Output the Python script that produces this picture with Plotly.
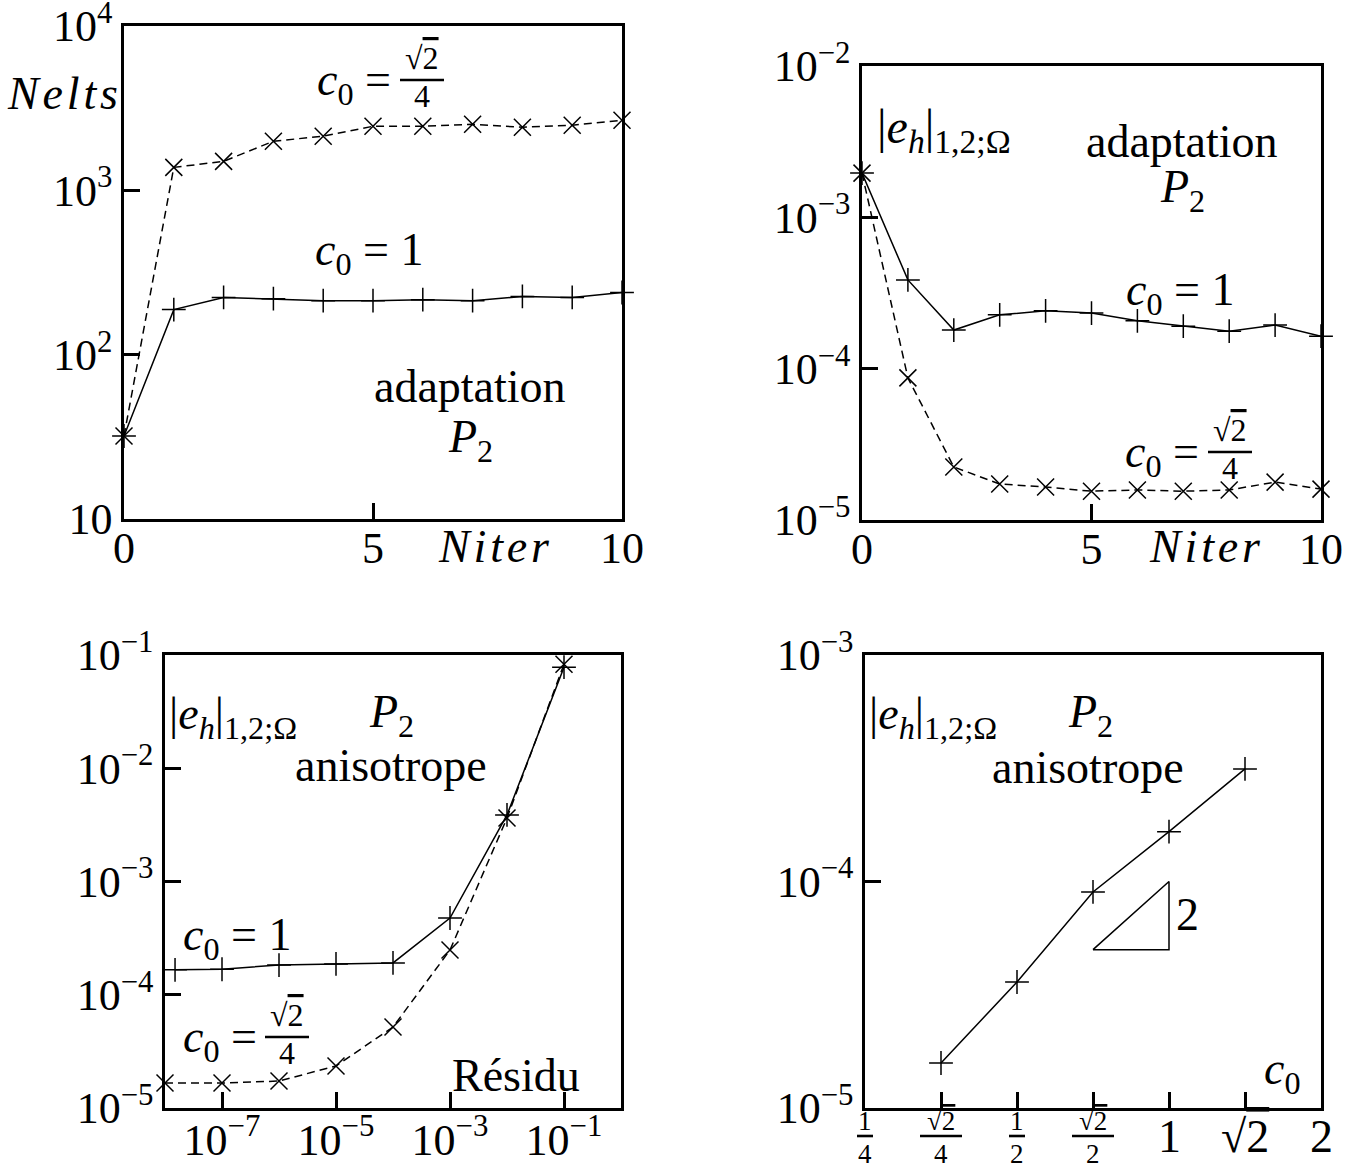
import math
import plotly.graph_objects as go

# figure fills the whole page (body margin removed after rendering)
OX, OY = 0, 0
FW, FH = 1347, 1176
FONT = "Liberation Serif"
SQ2 = math.sqrt(2)

# ---------------- data ----------------
# Panel 1 : number of elements vs iterations
niter = list(range(11))
nelts_c0_1 = [32, 188, 223, 219, 213, 213, 216, 213, 226, 223, 239]
nelts_c0_s24 = [32, 1380, 1500, 1990, 2135, 2455, 2455, 2525, 2420, 2490, 2670]

# Panel 2 : error vs iterations
err_iter_c0_1 = [1.96e-3, 3.86e-4, 1.80e-4, 2.27e-4, 2.41e-4, 2.33e-4, 2.07e-4, 1.91e-4, 1.77e-4, 1.94e-4, 1.64e-4]
err_iter_c0_s24 = [1.96e-3, 8.69e-5, 2.24e-5, 1.73e-5, 1.65e-5, 1.55e-5, 1.58e-5, 1.55e-5, 1.58e-5, 1.78e-5, 1.60e-5]

# Panel 3 : error vs residual
residu_c0_1 = [1.5e-8, 1e-7, 1e-6, 1e-5, 1e-4, 1e-3, 1e-2, 1e-1]
err_res_c0_1 = [1.66e-4, 1.68e-4, 1.83e-4, 1.87e-4, 1.91e-4, 4.76e-4, 3.87e-3, 7.8e-2]
residu_c0_s24 = [1e-8, 1e-7, 1e-6, 1e-5, 1e-4, 1e-3, 1e-2, 1e-1]
err_res_c0_s24 = [1.66e-5, 1.66e-5, 1.73e-5, 2.35e-5, 5.19e-5, 2.48e-4, 3.64e-3, 8.3e-2]

# Panel 4 : error vs c0
c0_vals = [SQ2 / 4, 0.5, SQ2 / 2, 1.0, SQ2]
err_c0 = [1.58e-5, 3.6e-5, 8.99e-5, 1.66e-4, 3.14e-4]
slope_tri_x = [SQ2 / 2, 1.0, 1.0, SQ2 / 2]
slope_tri_y = [5e-5, 5e-5, 1e-4, 5e-5]

# tick definitions
p1_yvals = [10, 100, 1000, 10000]
p1_ytext = ["10", "10<sup>2</sup>", "10<sup>3</sup>", "10<sup>4</sup>"]
iter_xvals = [0, 5, 10]
iter_xtext = ["0", "5", "10"]
p2_yvals = [1e-5, 1e-4, 1e-3, 1e-2]
p2_ytext = ["10<sup>−5</sup>", "10<sup>−4</sup>", "10<sup>−3</sup>", "10<sup>−2</sup>"]
p3_yvals = [1e-5, 1e-4, 1e-3, 1e-2, 1e-1]
p3_ytext = ["10<sup>−5</sup>", "10<sup>−4</sup>", "10<sup>−3</sup>", "10<sup>−2</sup>", "10<sup>−1</sup>"]
p3_xvals = [1e-7, 1e-5, 1e-3, 1e-1]
p3_xtext = ["10<sup>−7</sup>", "10<sup>−5</sup>", "10<sup>−3</sup>", "10<sup>−1</sup>"]
p4_yvals = [1e-5, 1e-4, 1e-3]
p4_ytext = ["10<sup>−5</sup>", "10<sup>−4</sup>", "10<sup>−3</sup>"]
p4_xvals = [0.25, SQ2 / 4, 0.5, SQ2 / 2, 1.0, SQ2, 2.0]
# (numerator, denominator) for fractional labels, plain text otherwise
p4_xlabels = [("1", "4"), ("√2", "4"), ("1", "2"), ("√2", "2"), "1", "√2", "2"]


def px(x):
    return (x - OX) / FW


def py(y):
    return 1 - (y - OY) / FH


# ---------------- figure ----------------
fig = go.Figure()

LINE_W = 1.5
MS = 17


def add(x, y, xa, ya, dashed, sym):
    fig.add_trace(go.Scatter(
        x=x, y=y, xaxis=xa, yaxis=ya, mode="lines+markers", cliponaxis=False,
        line=dict(color="black", width=LINE_W, dash="8px,5px" if dashed else "solid"),
        marker=dict(symbol=sym, size=MS, color="black", line=dict(color="black", width=1.5)),
        showlegend=False, hoverinfo="skip"))


add(niter, nelts_c0_s24, "x", "y", True, "x-thin-open")
add(niter, nelts_c0_1, "x", "y", False, "cross-thin-open")
add(niter, err_iter_c0_s24, "x2", "y2", True, "x-thin-open")
add(niter, err_iter_c0_1, "x2", "y2", False, "cross-thin-open")
add(residu_c0_s24, err_res_c0_s24, "x3", "y3", True, "x-thin-open")
add(residu_c0_1, err_res_c0_1, "x3", "y3", False, "cross-thin-open")
add(c0_vals, err_c0, "x4", "y4", False, "cross-thin-open")
fig.add_trace(go.Scatter(x=slope_tri_x, y=slope_tri_y, xaxis="x4", yaxis="y4", mode="lines",
                         line=dict(color="black", width=LINE_W), showlegend=False, hoverinfo="skip"))


def dom_x(a, b):
    return [px(a), px(b)]


def dom_y(top, bot):
    return [py(bot), py(top)]


AX = dict(showline=True, linecolor="black", linewidth=2.5, mirror=True, ticks="inside",
          ticklen=16, tickwidth=2.5, tickcolor="black", showgrid=False, zeroline=False,
          automargin=False, ticklabeloverflow="allow",
          tickfont=dict(family=FONT, size=44, color="black"))
XSO = dict(ticklabelstandoff=-12)

P4_XDOM = dom_x(865, 1321)
P4_XRANGE = [math.log10(0.25), math.log10(2)]

layout = dict(
    width=FW, height=FH, margin=dict(l=0, r=0, t=0, b=0, pad=0, autoexpand=False), autosize=False,
    paper_bgcolor="white", plot_bgcolor="white", showlegend=False,
    font=dict(family=FONT, color="black"),
    xaxis=dict(AX, **XSO, domain=dom_x(124, 622), range=[0, 10], tickvals=iter_xvals, ticktext=iter_xtext, anchor="y"),
    yaxis=dict(AX, domain=dom_y(26, 519), type="log", range=[1, 4], tickvals=p1_yvals, ticktext=p1_ytext, anchor="x"),
    xaxis2=dict(AX, **XSO, domain=dom_x(862, 1321), range=[0, 10], tickvals=iter_xvals, ticktext=iter_xtext, anchor="y2"),
    yaxis2=dict(AX, domain=dom_y(66, 520), type="log", range=[-5, -2], tickvals=p2_yvals, ticktext=p2_ytext, anchor="x2"),
    xaxis3=dict(AX, ticklabelstandoff=-9, domain=dom_x(165, 621), type="log", range=[-8, 0], tickvals=p3_xvals,
                ticktext=p3_xtext, anchor="y3"),
    yaxis3=dict(AX, domain=dom_y(655, 1108), type="log", range=[-5, -1], tickvals=p3_yvals, ticktext=p3_ytext, anchor="x3"),
    xaxis4=dict(AX, domain=P4_XDOM, type="log", range=P4_XRANGE,
                tickvals=p4_xvals, showticklabels=False, anchor="y4"),
    yaxis4=dict(AX, domain=dom_y(655, 1108), type="log", range=[-5, -3], tickvals=p4_yvals, ticktext=p4_ytext, anchor="x4"),
)
fig.update_layout(**layout)

annotations = []
shapes = []
SQRT2 = "√<span style='text-decoration:overline'>2</span>"


def ann(text, x, y, size=46, xanchor="center", yanchor="middle", xref="paper"):
    annotations.append(dict(text=text, x=x if xref != "paper" else px(x), y=py(y), xref=xref, yref="paper",
                            showarrow=False, font=dict(family=FONT, size=size, color="black"),
                            xanchor=xanchor, yanchor=yanchor, borderpad=0))


def hbar_paper(x0, x1, y):
    shapes.append(dict(type="line", xref="paper", yref="paper", x0=x0, x1=x1, y0=py(y), y1=py(y),
                       line=dict(color="black", width=2.6)))


def frac_c0(x_eq_right, xc, ybar, half=22):
    ann("<i>c</i><sub>0</sub> =", x_eq_right, ybar + 3, 46, "right", "middle")
    ann(SQRT2, xc, ybar - 22, 32, "center", "middle")
    ann("4", xc, ybar + 16, 32, "center", "middle")
    hbar_paper(px(xc - half), px(xc + half), ybar)


def p4_paper_x(v):
    f = (math.log10(v) - P4_XRANGE[0]) / (P4_XRANGE[1] - P4_XRANGE[0])
    return P4_XDOM[0] + f * (P4_XDOM[1] - P4_XDOM[0])


# panel-4 x tick labels, placed on the x4 axis at the tick values
for v, lab in zip(p4_xvals, p4_xlabels):
    lx = math.log10(v)
    if isinstance(lab, tuple):
        num, den = lab
        ann(SQRT2 if num == "√2" else num, lx, 1121, 27, "center", "middle", xref="x4")
        ann(den, lx, 1154, 27, "center", "middle", xref="x4")
        hw = (21 if num == "√2" else 8) / FW
        xc = p4_paper_x(v)
        hbar_paper(xc - hw, xc + hw, 1136)
    else:
        ann(SQRT2 if lab == "√2" else lab, lx, 1136, 46, "center", "middle", xref="x4")

HS = "\u200a"
ERR = "|<i>e</i><sub><i>h</i></sub>|<sub>1,2;Ω</sub>"
P2 = "<i>P</i><sub>2</sub>"
C01 = "<i>c</i><sub>0</sub> = 1"

# panel 1
ann("<i>" + HS.join("Nelts") + "</i>", 62, 93)
frac_c0(392, 422, 80)
ann(C01, 369, 253)
ann("adaptation", 470, 386)
ann(P2, 470, 440)
ann("<i>" + HS.join("Niter") + "</i>", 494, 546)
# panel 2
ann(ERR, 876, 130, 48, "left")
ann("adaptation", 1182, 142)
ann(P2, 1182, 190)
ann(C01, 1180, 293)
frac_c0(1200, 1230, 452)
ann("<i>" + HS.join("Niter") + "</i>", 1205, 546)
# panel 3
ann(ERR, 168, 717, 46, "left")
ann(P2, 391, 715)
ann("anisotrope", 391, 765)
ann(C01, 237, 938)
frac_c0(258, 287, 1037)
ann("Résidu", 516, 1075)
# panel 4
ann(ERR, 868, 717, 46, "left")
ann(P2, 1090, 715)
ann("anisotrope", 1088, 768)
ann("2", 1187, 915)
ann("<i>c</i><sub>0</sub>", 1282, 1072)

fig.update_layout(annotations=annotations, shapes=shapes)
fig.write_html("out.html", config={"displayModeBar": False},
               post_script="document.body.style.margin='0px';")
